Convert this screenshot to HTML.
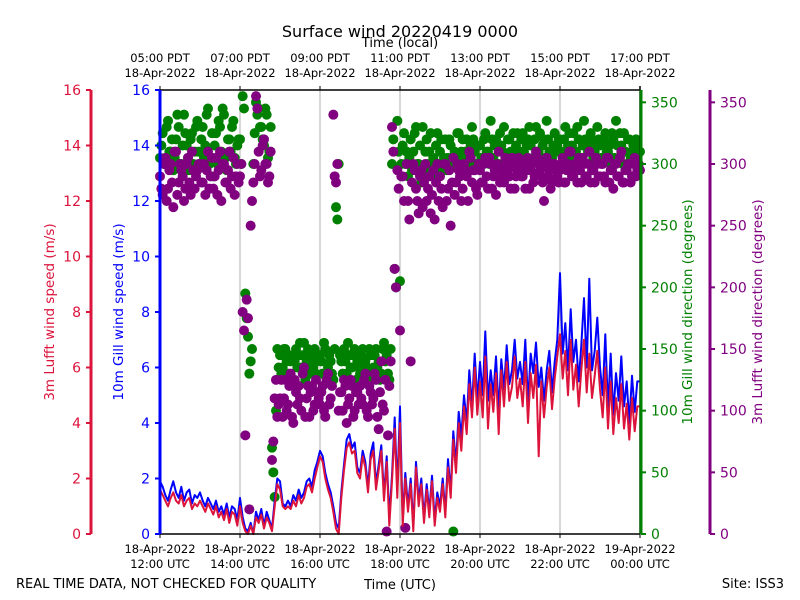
<!DOCTYPE html>
<html><head><meta charset="utf-8"><style>
body{margin:0;background:#fff;}
svg{display:block;font-family:"DejaVu Sans","Liberation Sans",sans-serif;}
</style></head><body>
<svg id="chart" width="800" height="600" viewBox="0 0 800 600" xmlns="http://www.w3.org/2000/svg">
<rect width="800" height="600" fill="#fff"/>
<text x="400" y="37" font-size="16" text-anchor="middle">Surface wind 20220419 0000</text>
<text x="400" y="47" font-size="13" text-anchor="middle">Time (local)</text>
<text x="400" y="589" font-size="13" text-anchor="middle">Time (UTC)</text>
<text x="16" y="588" font-size="13">REAL TIME DATA, NOT CHECKED FOR QUALITY</text>
<text x="784" y="588" font-size="13" text-anchor="end">Site: ISS3</text>
<g id="grid"></g>
<g id="marks"></g>
<g id="axes"></g>
</svg>
<script>
// time axis: minutes since 12:00 UTC, 4-minute steps
const stepMinutes = 4;
const gillSpeed = [
1.9,1.7,1.4,1.2,1.6,1.9,1.5,1.3,1.7,1.2,1.5,1.6,1.1,1.4,1.3,
1.5,1.2,1.0,1.3,1.1,0.9,1.2,0.8,1.0,0.7,1.1,0.6,1.0,0.9,0.5,
1.3,0.6,0.2,0.1,0.4,0.0,0.8,0.5,0.9,0.3,0.8,0.5,0.2,1.2,2.0,
1.9,1.1,1.0,1.2,1.0,1.4,1.2,1.6,1.3,1.5,1.9,2.0,1.7,2.3,2.6,
3.0,2.8,2.2,1.8,1.5,1.0,0.4,0.2,1.5,2.5,3.4,3.6,3.1,3.3,2.4,
2.2,3.0,2.6,1.7,2.9,3.3,1.8,2.5,3.2,1.4,2.8,0.6,2.1,4.2,1.6,
4.6,0.5,2.2,1.0,2.0,0.3,2.6,1.2,2.0,0.6,1.8,0.8,2.1,0.5,1.5,
1.0,2.0,0.8,2.7,1.5,3.7,2.5,4.4,3.5,5.0,4.0,5.9,4.6,6.5,4.8,
6.2,5.0,7.3,4.8,5.9,5.0,6.4,4.4,6.3,5.2,6.8,5.4,5.9,7.0,5.6,
6.2,5.4,7.0,4.7,6.5,5.8,6.9,5.3,6.0,4.8,5.9,6.6,5.1,6.2,7.0,
9.4,6.5,7.6,5.9,8.1,6.2,7.0,5.5,6.8,8.5,6.0,9.2,5.9,6.6,7.8,
6.0,5.0,7.2,4.5,6.5,4.3,5.8,4.8,6.4,4.6,5.5,4.0,5.7,4.4,5.5,5.5];
const lufftSpeed = [
1.6,1.4,1.2,1.0,1.3,1.5,1.2,1.1,1.4,1.0,1.2,1.3,0.9,1.1,1.0,
1.2,1.0,0.8,1.1,0.9,0.7,1.0,0.6,0.8,0.5,0.9,0.4,0.8,0.7,0.3,
1.0,0.4,0.1,0.0,0.3,0.0,0.6,0.4,0.7,0.2,0.6,0.4,0.1,1.0,1.8,
1.6,1.0,0.9,1.0,0.9,1.2,1.0,1.4,1.1,1.3,1.7,1.8,1.5,2.0,2.4,
2.8,2.6,2.0,1.6,1.3,0.8,0.2,0.0,1.3,2.3,3.1,3.3,2.9,3.0,2.2,
2.0,2.8,2.4,1.5,2.7,3.0,1.6,2.3,3.0,1.2,2.6,0.3,1.9,3.8,1.3,
4.0,0.3,2.0,0.8,1.8,0.1,2.4,1.0,1.8,0.4,1.6,0.6,1.9,0.3,1.3,
0.8,1.8,0.6,2.4,1.3,3.4,2.2,4.0,3.0,4.6,3.6,5.4,4.2,6.0,4.3,
5.5,4.2,6.4,3.8,5.4,4.4,5.8,3.6,5.9,4.6,6.2,4.8,5.3,6.4,4.9,
5.6,4.6,6.2,4.0,5.8,4.9,6.1,2.8,5.5,4.2,5.3,6.0,4.5,5.6,6.4,
7.2,5.6,6.6,5.0,7.0,5.2,6.1,4.6,5.9,7.0,5.1,6.5,4.9,5.7,6.6,
5.2,4.2,6.0,3.8,5.5,3.6,4.9,4.0,5.4,3.8,4.7,3.4,4.9,3.7,4.6,4.6];
// directions sampled at minute 0,4,8,... (A) and 2,6,10,... (B)
const gillDirA = [
305,325,300,335,310,295,320,330,300,340,315,295,325,310,335,
300,330,315,345,305,290,325,335,310,340,295,320,330,305,315,
320,355,195,160,140,300,350,345,330,315,340,310,70,30,150,
145,135,150,130,140,125,150,145,135,155,140,130,145,150,140,
145,130,150,135,140,125,265,300,140,150,130,145,135,150,140,
130,150,140,125,145,135,150,140,130,155,145,125,300,215,335,
205,315,300,290,320,310,330,300,285,295,320,310,290,300,325,
310,295,320,305,315,2,300,325,310,295,320,305,330,310,300,
315,300,325,310,335,305,320,300,315,330,305,320,310,300,325,
310,325,300,320,315,305,330,310,300,320,335,310,305,325,315,
320,305,330,315,300,325,310,320,305,335,315,300,320,310,330,
315,305,325,310,300,320,335,305,315,325,300,320,310,305,315,310];
const gillDirB = [
315,300,330,310,320,305,340,300,315,325,305,320,300,330,310,
320,305,340,300,325,315,300,330,345,305,320,310,335,300,320,
300,345,175,130,150,325,340,330,320,345,305,330,50,100,135,
130,150,140,145,125,140,135,155,145,125,150,140,135,130,145,
140,155,125,145,130,150,255,145,130,140,155,135,145,125,135,
145,125,135,150,130,145,135,125,150,140,130,150,320,200,310,
300,325,310,305,295,325,300,315,330,310,300,325,305,315,300,
320,305,295,320,300,310,325,305,320,310,300,315,320,300,315,
305,320,310,300,320,315,300,325,310,300,320,310,325,315,305,
320,310,315,330,300,320,310,325,315,305,320,300,315,310,320,
310,320,305,325,315,305,330,300,315,320,310,325,305,315,320,
305,320,310,315,325,305,315,325,300,310,320,305,315,320,310];
const lufftDirA = [
290,275,305,280,300,265,310,285,295,270,300,285,310,280,295,
300,285,275,310,290,280,305,295,270,300,285,310,290,275,300,
290,180,80,175,250,285,355,310,295,320,300,290,60,110,95,
110,95,125,105,130,90,115,120,100,135,110,95,120,105,115,
105,120,95,130,110,340,285,100,115,125,90,110,120,100,115,
120,105,130,95,115,110,125,85,140,100,2,120,330,215,295,
165,290,5,270,140,300,280,260,295,285,270,290,275,255,300,
290,265,300,280,250,305,285,295,270,300,290,310,285,295,275,
295,285,305,280,300,290,275,310,295,285,300,290,305,280,295,
300,290,280,305,295,285,310,300,290,270,305,295,285,300,290,
295,305,285,300,310,290,295,305,285,300,290,310,295,285,300,
290,300,285,305,295,280,300,290,310,285,295,300,290,305,295,295];
const lufftDirB = [
280,300,270,295,285,310,275,300,290,280,305,275,295,290,300,
285,300,295,280,305,290,275,310,300,285,295,280,305,290,285,
300,165,190,20,270,300,345,290,315,300,285,310,75,125,105,
125,110,100,120,95,125,105,110,130,95,120,115,100,125,110,
115,100,125,105,120,290,300,115,100,120,105,125,95,115,105,
110,125,100,120,105,130,95,115,105,125,80,140,310,200,280,
290,270,300,255,285,295,270,290,265,300,280,260,295,285,270,
280,300,270,295,285,275,300,290,280,295,270,305,295,280,300,
285,300,290,305,280,295,300,285,290,305,295,280,300,290,305,
290,300,295,280,300,290,305,295,285,300,290,280,300,295,285,
300,285,295,310,290,300,285,295,305,290,300,285,295,305,290,
300,290,305,285,295,300,290,305,285,295,300,285,300,290,300];
const speedTicks = [0,2,4,6,8,10,12,14,16];
const dirTicks = [0,50,100,150,200,250,300,350];
const utcTickHours = [0,2,4,6,8,10,12];
const utcDateLabels = ["18-Apr-2022","18-Apr-2022","18-Apr-2022","18-Apr-2022","18-Apr-2022","18-Apr-2022","19-Apr-2022"];
const utcTimeLabels = ["12:00 UTC","14:00 UTC","16:00 UTC","18:00 UTC","20:00 UTC","22:00 UTC","00:00 UTC"];
const pdtTimeLabels = ["05:00 PDT","07:00 PDT","09:00 PDT","11:00 PDT","13:00 PDT","15:00 PDT","17:00 PDT"];

const X0=160,X1=640,Y0=534,Y1=90;
const xOfMin = m => X0 + m*(X1-X0)/720;
const ySpeed = v => Y0 - v*(Y0-Y1)/16;
const yDir = d => Y0 - d*(Y0-Y1)/360;
const NS="http://www.w3.org/2000/svg";
function mk(tag, parent, attrs){const e=document.createElementNS(NS,tag);for(const k in attrs)e.setAttribute(k,attrs[k]);parent.appendChild(e);return e;}
const grid=document.getElementById('grid'), marks=document.getElementById('marks'), axes=document.getElementById('axes');

utcTickHours.forEach((h,i)=>{ if(i===0||i===utcTickHours.length-1) return;
  const g=mk('line',grid,{x1:xOfMin(h*60),x2:xOfMin(h*60),y1:Y1,y2:Y0,stroke:'#b0b0b0','stroke-width':1});
  
  
});

function scatter(arr,offset,color,name){
  arr.forEach((d,i)=>{ if(d==null) return;
    const c=mk('circle',marks,{cx:xOfMin(i*stepMinutes+offset),cy:yDir(d),r:5,fill:color});
    
    
  });
}
scatter(gillDirA,0,'#008000','gill-direction-point');
scatter(gillDirB,2,'#008000','gill-direction-point');
scatter(lufftDirA,0,'#800080','lufft-direction-point');
scatter(lufftDirB,2,'#800080','lufft-direction-point');

function line(arr,color,name){
  const pts=arr.map((v,i)=>xOfMin(i*stepMinutes).toFixed(1)+','+ySpeed(v).toFixed(1)).join(' ');
  const p=mk('polyline',marks,{points:pts,fill:'none',stroke:color,'stroke-width':2,'stroke-linejoin':'round'});
  
  
}
line(gillSpeed,'#0000ff','gill-speed-line');
line(lufftSpeed,'#dc143c','lufft-speed-line');

const fr=mk('path',axes,{d:`M${X0} ${Y1}H${X1}M${X0} ${Y0}H${X1}`,stroke:'#000','stroke-width':1.5,fill:'none'});



utcTickHours.forEach((h,i)=>{
  const x=xOfMin(h*60);
  mk('line',axes,{x1:x,x2:x,y1:Y0,y2:Y0+4,stroke:'#000','stroke-width':1});
  mk('line',axes,{x1:x,x2:x,y1:Y1,y2:Y1-4,stroke:'#000','stroke-width':1});
  const t1=mk('text',axes,{x:x,y:553,'font-size':11.5,'text-anchor':'middle'}); t1.textContent=utcDateLabels[i];
  
  
  const t2=mk('text',axes,{x:x,y:568,'font-size':11.5,'text-anchor':'middle'}); t2.textContent=utcTimeLabels[i];
  
  
  const t3=mk('text',axes,{x:x,y:62,'font-size':11.5,'text-anchor':'middle'}); t3.textContent=pdtTimeLabels[i];
  
  
  const t4=mk('text',axes,{x:x,y:77,'font-size':11.5,'text-anchor':'middle'}); t4.textContent=utcDateLabels[0];
  
  
});

function yAxis(xs,color,ticks,yf,side,labelText,labelX,name){
  const sp=mk('line',axes,{x1:xs,x2:xs,y1:Y1,y2:Y0,stroke:color,'stroke-width':3});
  
  
  ticks.forEach(v=>{
    const y=yf(v);
    mk('line',axes,{x1:xs,x2:xs+side*5,y1:y,y2:y,stroke:color,'stroke-width':2});
    const t=mk('text',axes,{x:xs+side*10,y:y+5,'font-size':14,fill:color,'text-anchor':side<0?'end':'start'});
    t.textContent=v;
    
    
  });
  const lab=mk('text',axes,{x:0,y:0,'font-size':13.5,fill:color,'text-anchor':'middle',transform:`translate(${labelX},${(Y0+Y1)/2}) rotate(-90)`});
  lab.textContent=labelText;
  
  
}
yAxis(91,'#dc143c',speedTicks,ySpeed,-1,'3m Lufft wind speed (m/s)',54,'lufft-speed-axis');
yAxis(160,'#0000ff',speedTicks,ySpeed,-1,'10m Gill wind speed (m/s)',123,'gill-speed-axis');
mk('line',axes,{x1:640,x2:640,y1:Y1-4,y2:Y0,stroke:'#000','stroke-width':1.5});
yAxis(641,'#008000',dirTicks,yDir,1,'10m Gill wind direction (degrees)',692,'gill-direction-axis');
yAxis(710,'#800080',dirTicks,yDir,1,'3m Lufft wind direction (degrees)',762,'lufft-direction-axis');
</script>
</body></html>
